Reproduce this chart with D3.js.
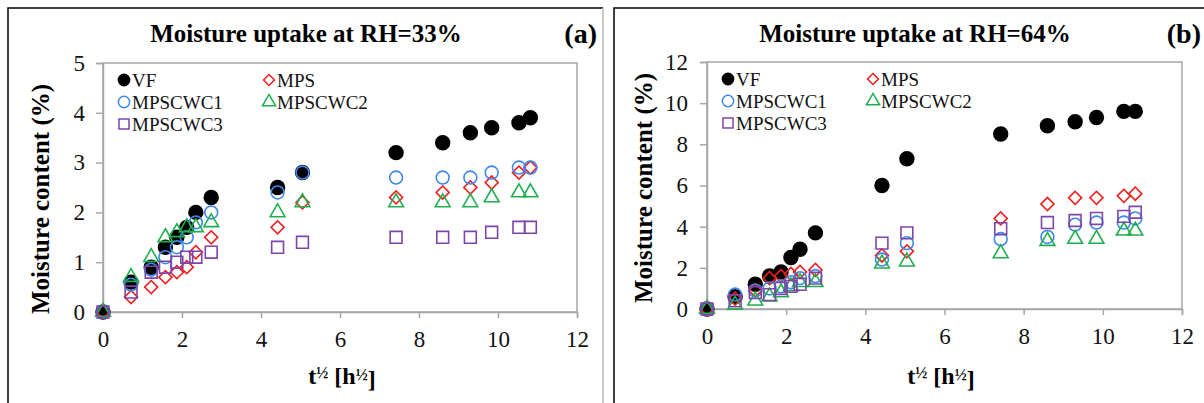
<!DOCTYPE html>
<head>
    <script src="https://d3js.org/d3.v7.min.js"></script>
    <style>
        body {margin: 0; background: #fff;}
        .axis path {stroke: #a6a6a6; stroke-width: 1.5;}
        .axis line {stroke: #a6a6a6; stroke-width: 1.5;}
        .axis text {fill: #111;}
    </style>
</head>
<body>
</body>
<script>
  // sqrt of time (h^1/2), shared by both panels
  const xVals = [0, 0.71, 1.22, 1.58, 1.87, 2.12, 2.35, 2.74, 4.42, 5.05, 7.42, 8.6, 9.3, 9.84, 10.53, 10.82];

  const seriesNames = ["VF", "MPS", "MPSCWC1", "MPSCWC2", "MPSCWC3"];

  // RH = 33 %
  const vf33      = [0, 0.6, 0.9, 1.3, 1.5, 1.7, 2.0, 2.3, 2.5, 2.8, 3.2, 3.4, 3.6, 3.7, 3.8, 3.9];
  const mps33     = [0, 0.3, 0.5, 0.7, 0.8, 0.9, 1.2, 1.5, 1.7, 2.2, 2.3, 2.4, 2.5, 2.6, 2.8, 2.9];
  const mpscwc1_33 = [0, 0.55, 0.85, 1.1, 1.3, 1.5, 1.8, 2.0, 2.4, 2.8, 2.7, 2.7, 2.7, 2.8, 2.9, 2.9];
  const mpscwc2_33 = [0, 0.7, 1.1, 1.5, 1.6, 1.7, 1.7, 1.8, 2.0, 2.2, 2.2, 2.2, 2.2, 2.3, 2.4, 2.4];
  const mpscwc3_33 = [0, 0.4, 0.8, 0.9, 1.0, 1.1, 1.1, 1.2, 1.3, 1.4, 1.5, 1.5, 1.5, 1.6, 1.7, 1.7];

  // RH = 64 %
  const vf64      = [0, 0.6, 1.2, 1.6, 1.8, 2.5, 2.9, 3.7, 6.0, 7.3, 8.5, 8.9, 9.1, 9.3, 9.6, 9.6];
  const mps64     = [0, 0.5, 0.9, 1.5, 1.6, 1.7, 1.8, 1.9, 2.6, 2.8, 4.4, 5.1, 5.4, 5.4, 5.5, 5.6];
  const mpscwc1_64 = [0, 0.7, 0.9, 1.0, 1.1, 1.3, 1.5, 1.6, 2.4, 3.2, 3.4, 3.5, 4.1, 4.2, 4.2, 4.4];
  const mpscwc2_64 = [0, 0.2, 0.4, 0.6, 0.8, 1.1, 1.3, 1.3, 2.2, 2.3, 2.7, 3.3, 3.4, 3.4, 3.8, 3.8];
  const mpscwc3_64 = [0, 0.4, 0.8, 0.7, 1.0, 1.1, 1.2, 1.5, 3.2, 3.7, 3.9, 4.2, 4.3, 4.4, 4.5, 4.7];

  const xTicks = [0, 2, 4, 6, 8, 10, 12];
  const yTicks33 = [0, 1, 2, 3, 4, 5];
  const yTicks64 = [0, 2, 4, 6, 8, 10, 12];

  const styles = {
    VF:      {shape: "circle",   fill: "#000",  stroke: "#000"},
    MPS:     {shape: "diamond",  fill: "none",  stroke: "#f21d1d"},
    MPSCWC1: {shape: "circle",   fill: "none",  stroke: "#3d87f0"},
    MPSCWC2: {shape: "triangle", fill: "none",  stroke: "#1fae4f"},
    MPSCWC3: {shape: "square",   fill: "none",  stroke: "#7d45a8"}
  };

  const FONT = "Liberation Serif";
  const width = 1204, height = 403;

  const svg = d3.select("body").append("svg")
      .attr("width", width)
      .attr("height", height)
      .attr("font-family", FONT);

  // panel frames
  svg.append("path").attr("d", "M8,410 L8,8 L603,8").attr("fill", "none").attr("stroke", "#000").attr("stroke-width", 1.5);
  svg.append("line").attr("x1", 603).attr("x2", 603).attr("y1", 8).attr("y2", 410).attr("stroke", "#c8c8c8").attr("stroke-width", 2);
  svg.append("path").attr("d", "M614,410 L614,8 L1210,8").attr("fill", "none").attr("stroke", "#000").attr("stroke-width", 1.5);

  const marker = (shape, filled) => {
    const gen = d3.symbol();
    if (shape === "circle") return gen.type(d3.symbolCircle).size(filled ? 150 : 130)();
    if (shape === "square") return gen.type(d3.symbolSquare).size(140)();
    if (shape === "diamond") return gen.type(d3.symbolSquare).size(85)();
    return gen.type(d3.symbolTriangle).size(95)();
  };

  const drawPanel = cfg => {
    const x = d3.scaleLinear().domain([0, 12]).range([cfg.left, cfg.right]);
    const y = d3.scaleLinear().domain([0, cfg.yMax]).range([cfg.bottom, cfg.top]);
    const g = svg.append("g");

    // plot frame
    g.append("rect")
      .attr("x", cfg.left).attr("y", cfg.top)
      .attr("width", cfg.right - cfg.left).attr("height", cfg.bottom - cfg.top)
      .attr("fill", "none").attr("stroke", "#a6a6a6").attr("stroke-width", 1.5);

    g.append("g").attr("class", "axis")
      .attr("transform", `translate(0,${cfg.bottom})`)
      .call(d3.axisBottom(x).tickValues(xTicks).tickSize(6).tickPadding(13).tickFormat(d3.format("d")))
      .attr("font-family", FONT).attr("font-size", 23);

    g.append("g").attr("class", "axis")
      .attr("transform", `translate(${cfg.left},0)`)
      .call(d3.axisLeft(y).tickValues(cfg.yTicks).tickSize(7).tickPadding(cfg.yPad).tickFormat(d3.format("d")))
      .attr("font-family", FONT).attr("font-size", 23);

    // series, later ones on top
    seriesNames.forEach((name, k) => {
      const st = styles[name];
      g.append("g").selectAll("path")
        .data(cfg.values[k].map((v, i) => [xVals[i], v]))
        .enter().append("path")
        .attr("d", marker(st.shape, st.fill !== "none"))
        .attr("transform", d => `translate(${x(d[0])},${y(d[1])})` + (st.shape === "diamond" ? " rotate(45)" : ""))
        .attr("fill", st.fill)
        .attr("stroke", st.stroke)
        .attr("stroke-width", 1.6);
    });

    // legend
    const lg = g.append("g");
    seriesNames.forEach((name, k) => {
      const st = styles[name];
      const lx = cfg.left + 21 + (k % 2) * 145;
      const ly = cfg.top + 17 + Math.floor(k / 2) * 22;
      lg.append("path")
        .attr("d", d3.symbol().type(st.shape === "circle" ? d3.symbolCircle : (st.shape === "triangle" ? d3.symbolTriangle : d3.symbolSquare))
              .size(st.shape === "diamond" ? 60 : (st.shape === "triangle" ? 75 : 100))())
        .attr("transform", `translate(${lx},${ly})` + (st.shape === "diamond" ? " rotate(45)" : ""))
        .attr("fill", st.fill).attr("stroke", st.stroke).attr("stroke-width", 1.5);
      lg.append("text")
        .attr("x", lx + 8).attr("y", ly).attr("dy", "0.35em")
        .attr("font-family", FONT).attr("font-size", 19).attr("fill", "#111")
        .text(name);
    });

    // titles
    g.append("text")
      .attr("x", cfg.titleX).attr("y", 33).attr("dy", "0.35em")
      .attr("text-anchor", "middle")
      .attr("font-family", FONT).attr("font-size", 25).attr("font-weight", "bold")
      .text(cfg.title);

    g.append("text")
      .attr("x", cfg.tagX).attr("y", 33).attr("dy", "0.35em")
      .attr("text-anchor", "end")
      .attr("font-family", FONT).attr("font-size", 28).attr("font-weight", "bold")
      .text(cfg.tag);

    g.append("text")
      .attr("transform", `translate(${cfg.yTitleX},${cfg.yTitleY}) rotate(-90)`)
      .attr("dy", "0.35em")
      .attr("text-anchor", "middle")
      .attr("font-family", FONT).attr("font-size", 25).attr("font-weight", "bold")
      .text("Moisture content (%)");

    const xt = g.append("text")
      .attr("x", cfg.xTitleX).attr("y", 376).attr("dy", "0.35em")
      .attr("text-anchor", "middle")
      .attr("font-family", FONT).attr("font-size", 24).attr("font-weight", "bold");
    xt.append("tspan").text("t");
    xt.append("tspan").attr("font-size", 16).attr("dy", "-0.4em").text("½");
    xt.append("tspan").attr("dy", "0.27em").text(" [h");
    xt.append("tspan").attr("font-size", 16).attr("dy", "-0.27em").text("½");
    xt.append("tspan").attr("dy", "0.27em").text("]");
  };

  drawPanel({
    left: 103, right: 577, top: 63, bottom: 312, yMax: 5, yTicks: yTicks33, yPad: 11,
    values: [vf33, mps33, mpscwc1_33, mpscwc2_33, mpscwc3_33],
    title: "Moisture uptake at RH=33%", titleX: 306, tag: "(a)", tagX: 597,
    yTitleX: 40, yTitleY: 199, xTitleX: 342
  });

  drawPanel({
    left: 707, right: 1182, top: 62, bottom: 309, yMax: 12, yTicks: yTicks64, yPad: 12,
    values: [vf64, mps64, mpscwc1_64, mpscwc2_64, mpscwc3_64],
    title: "Moisture uptake at RH=64%", titleX: 915, tag: "(b)", tagX: 1201,
    yTitleX: 643, yTitleY: 188, xTitleX: 941
  });
</script>
